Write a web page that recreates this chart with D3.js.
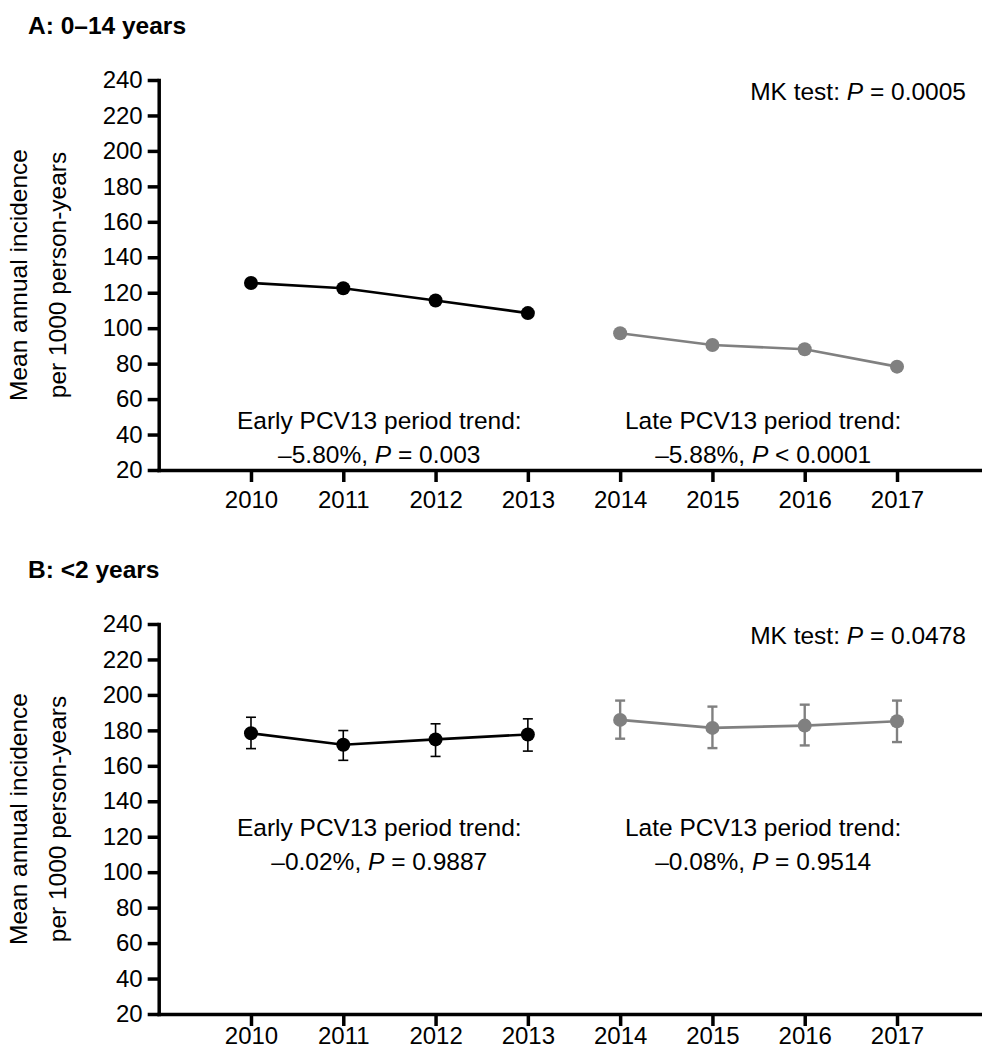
<!DOCTYPE html>
<html>
<head>
<meta charset="utf-8">
<script src="https://cdn.jsdelivr.net/npm/d3@7"></script>
<style>
  body { margin: 0; background: #fff; }
  svg { display: block; font-family: "Liberation Sans", Arial, sans-serif; }
  .axis path, .axis line { stroke: #000; stroke-width: 3.5; }
  .axis text { font-size: 24px; fill: #000; }
</style>
</head>
<body>
<div id="chart"></div>
<script>
  var years = [2010, 2011, 2012, 2013, 2014, 2015, 2016, 2017];
  var yTicks = [20, 40, 60, 80, 100, 120, 140, 160, 180, 200, 220, 240];

  // panel A: 0-14 years
  var incidenceA = [125.5, 122.5, 115.6, 108.5, 97.1, 90.5, 88.1, 78.3];
  // panel B: <2 years, with error bars
  var incidenceB = [178.4, 171.9, 174.9, 177.7, 185.9, 181.4, 182.7, 185.1];
  var lowerB = [169.7, 163.1, 165.3, 168.3, 175.3, 170.0, 171.5, 173.4];
  var upperB = [187.4, 179.9, 183.7, 186.5, 196.8, 193.4, 194.5, 196.8];

  var titles = ['A: 0\u201314 years', 'B: <2 years'];
  var mkP = ['0.0005', '0.0478'];
  var earlyTrend = [['\u20135.80%, ', ' = 0.003'], ['\u20130.02%, ', ' = 0.9887']];
  var lateTrend = [['\u20135.88%, ', ' < 0.0001'], ['\u20130.08%, ', ' = 0.9514']];

  var black = '#000', gray = '#808080';
  var W = 982, H = 1052;
  var fs = '24.5px';

  var svg = d3.select('#chart').append('svg')
    .attr('width', W)
    .attr('height', H);

  var x = d3.scaleLinear().domain([2009, 2018]).range([158.7, 989.3]);

  function drawPanel(idx, top, vals, lo, hi, xPad) {
    var plotTop = top, plotBottom = top + 390;
    var y = d3.scaleLinear().domain([20, 240]).range([plotBottom, plotTop]);
    var g = svg.append('g');

    // title
    g.append('text')
      .attr('x', 28).attr('y', top - 46)
      .style('font-size', fs).style('font-weight', 'bold')
      .text(titles[idx]);

    // axes
    g.append('g')
      .attr('class', 'axis')
      .attr('transform', 'translate(0,' + plotBottom + ')')
      .call(d3.axisBottom(x).tickValues(years).tickFormat(d3.format('d'))
        .tickSizeInner(12).tickSizeOuter(0).tickPadding(xPad));

    g.append('g')
      .attr('class', 'axis')
      .attr('transform', 'translate(' + x(2009) + ',0)')
      .call(d3.axisLeft(y).tickValues(yTicks)
        .tickSizeInner(11).tickSizeOuter(0).tickPadding(5));

    g.selectAll('.axis .domain').attr('stroke-linecap', 'square');

    // y label
    var lbl = g.append('text')
      .attr('transform', 'translate(0,' + (plotTop + plotBottom) / 2 + ') rotate(-90)')
      .attr('text-anchor', 'middle')
      .style('font-size', fs);
    lbl.append('tspan').attr('x', 0).attr('y', 27).text('Mean annual incidence');
    lbl.append('tspan').attr('x', 0).attr('y', 66).text('per 1000 person-years');

    // MK test
    var mk = g.append('text')
      .attr('x', 966).attr('y', top + 20)
      .attr('text-anchor', 'end')
      .style('font-size', fs);
    mk.append('tspan').text('MK test: ');
    mk.append('tspan').style('font-style', 'italic').text('P');
    mk.append('tspan').text(' = ' + mkP[idx]);

    // series, split into early (black) and late (gray) periods
    var pts = years.map(function(yr, i) {
      return {year: yr, v: vals[i], lo: lo ? lo[i] : null, hi: hi ? hi[i] : null};
    });
    var periods = [
      {pts: pts.filter(function(d) { return d.year <= 2013; }), color: black, cap: 1.6},
      {pts: pts.filter(function(d) { return d.year >= 2014; }), color: gray, cap: 2.4}
    ];

    var line = d3.line()
      .x(function(d) { return x(d.year); })
      .y(function(d) { return y(d.v); });

    periods.forEach(function(p) {
      if (lo) {
        var eb = g.append('g').selectAll('g').data(p.pts).enter().append('g')
          .attr('stroke', p.color).attr('stroke-width', p.cap);
        eb.append('line')
          .attr('x1', function(d) { return x(d.year); })
          .attr('x2', function(d) { return x(d.year); })
          .attr('y1', function(d) { return y(d.lo); })
          .attr('y2', function(d) { return y(d.hi); });
        eb.append('line')
          .attr('x1', function(d) { return x(d.year) - 5; })
          .attr('x2', function(d) { return x(d.year) + 5; })
          .attr('y1', function(d) { return y(d.hi); })
          .attr('y2', function(d) { return y(d.hi); });
        eb.append('line')
          .attr('x1', function(d) { return x(d.year) - 5; })
          .attr('x2', function(d) { return x(d.year) + 5; })
          .attr('y1', function(d) { return y(d.lo); })
          .attr('y2', function(d) { return y(d.lo); });
      }
      g.append('path')
        .datum(p.pts)
        .attr('fill', 'none')
        .attr('stroke', p.color)
        .attr('stroke-width', 2.6)
        .attr('d', line);
      g.selectAll(null).data(p.pts).enter().append('circle')
        .attr('cx', function(d) { return x(d.year); })
        .attr('cy', function(d) { return y(d.v); })
        .attr('r', 7)
        .attr('fill', p.color);
    });

    // trend annotations
    var off1 = idx === 0 ? 349 : 212, off2 = idx === 0 ? 383 : 246;
    [[2011.39, 'Early', earlyTrend[idx]], [2015.55, 'Late', lateTrend[idx]]].forEach(function(t) {
      var tx = g.append('text')
        .attr('text-anchor', 'middle')
        .style('font-size', fs);
      tx.append('tspan').attr('x', x(t[0])).attr('y', top + off1)
        .text(t[1] + ' PCV13 period trend:');
      var l2 = tx.append('tspan').attr('x', x(t[0])).attr('y', top + off2);
      l2.append('tspan').text(t[2][0]);
      l2.append('tspan').style('font-style', 'italic').text('P');
      l2.append('tspan').text(t[2][1]);
    });
  }

  drawPanel(0, 80, incidenceA, null, null, 9);
  drawPanel(1, 624, incidenceB, lowerB, upperB, 1);
</script>
</body>
</html>
